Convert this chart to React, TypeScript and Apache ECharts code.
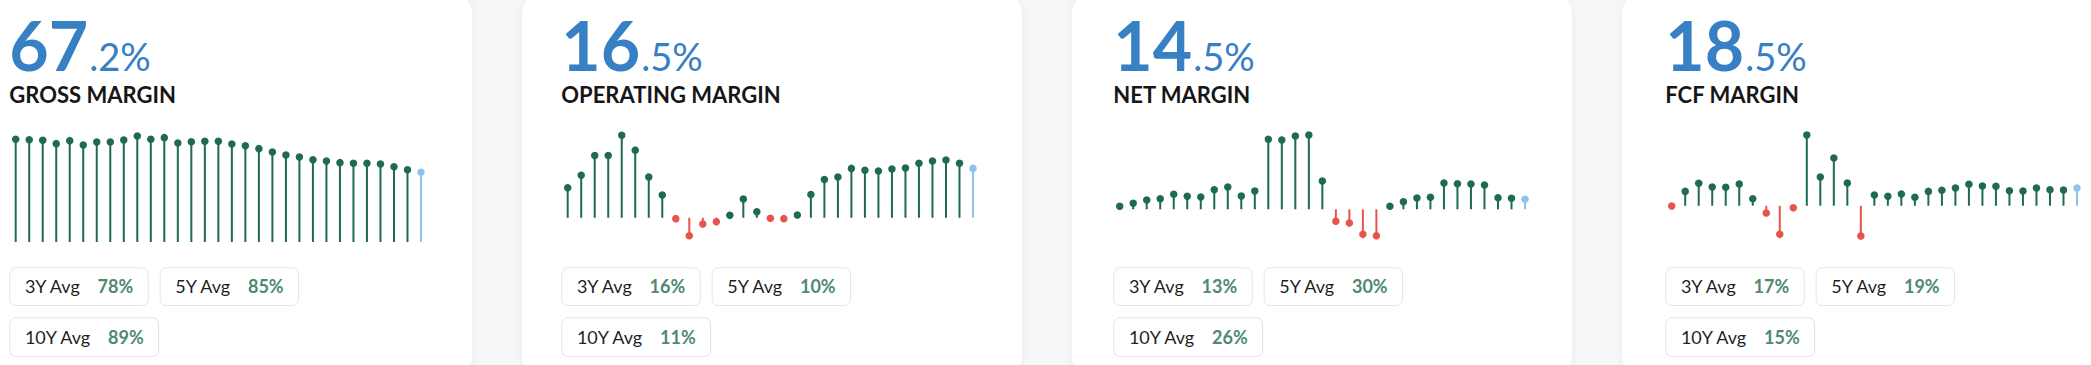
import React, { useEffect, useRef } from 'react';
import * as echarts from 'echarts';

// ---------- DATA ----------
const categories = [
  '1994', '1995', '1996', '1997', '1998', '1999', '2000', '2001', '2002', '2003',
  '2004', '2005', '2006', '2007', '2008', '2009', '2010', '2011', '2012', '2013',
  '2014', '2015', '2016', '2017', '2018', '2019', '2020', '2021', '2022', '2023', 'TTM',
];

const grossMargin = [
  99.0, 98.6, 98.0, 94.8, 97.7, 93.5, 96.4, 96.4, 98.3, 102.2, 99.0, 100.6, 95.4, 96.7, 97.1, 97.1,
  94.5, 92.8, 90.0, 86.8, 83.9, 81.9, 79.3, 78.1, 76.5, 75.9, 75.9, 75.2, 72.6, 69.7, 67.2,
];
const operatingMargin = [
  10.0, 14.2, 20.8, 20.8, 27.6, 22.6, 13.6, 7.6, -0.3, -6.0, -2.1, -1.3, 0.8, 6.3, 2.0, -0.2,
  -0.3, 0.9, 7.8, 12.8, 13.6, 16.5, 15.9, 15.6, 16.3, 16.6, 18.2, 19.0, 19.3, 18.2, 16.5,
];
const netMargin = [
  4.4, 8.7, 13.5, 15.4, 21.8, 18.9, 17.8, 28.4, 32.3, 19.3, 26.5, 101.5, 100.5, 106.3, 107.7, 41.0,
  -17.4, -19.9, -36.3, -38.3, 4.4, 11.0, 16.4, 17.4, 38.1, 37.1, 36.7, 35.2, 16.8, 16.0, 14.5,
];
const fcfMargin = [
  -0.3, 15.0, 23.4, 19.5, 19.2, 22.7, 7.3, -7.6, -29.9, -2.1, 73.9, 30.0, 49.8, 23.7, -31.7, 11.2,
  9.8, 12.2, 8.8, 15.0, 16.1, 18.5, 22.4, 20.6, 20.3, 15.7, 15.4, 18.5, 16.7, 16.4, 18.5,
];

const titles = ['GROSS MARGIN', 'OPERATING MARGIN', 'NET MARGIN', 'FCF MARGIN'];
const headlineWhole = ['67', '16', '14', '18'];
const headlineDecimal = ['.2%', '.5%', '.5%', '.5%'];
const avgLabels = ['3Y Avg', '5Y Avg', '10Y Avg'];
const grossAvg = ['78%', '85%', '89%'];
const operatingAvg = ['16%', '10%', '11%'];
const netAvg = ['13%', '30%', '26%'];
const fcfAvg = ['17%', '19%', '15%'];

const seriesValues = [grossMargin, operatingMargin, netMargin, fcfMargin];
const seriesAvgs = [grossAvg, operatingAvg, netAvg, fcfAvg];

// ---------- LAYOUT / STYLE ----------
const W = 2091;
const H = 365;
const FONT = 'Lato, "Noto Sans", sans-serif';
const GREEN = '#1e6a52';
const RED = '#e8534b';
const BLUE = '#8dc4ef';
const HEAD_BLUE = '#3680c3';
const VALUE_GREEN = '#4d8a71';
const yRanges = [
  [0, 107.0],
  [-8.1, 29.0],
  [-47.4, 113.5],
  [-37.9, 78.1],
];

const measureCtx = typeof document !== 'undefined' ? document.createElement('canvas').getContext('2d') : null;
function textWidth(text: string, weight: number, size: number): number {
  if (!measureCtx) return text.length * size * 0.55;
  measureCtx.font = `${weight} ${size}px Lato`;
  return measureCtx.measureText(text).width;
}

function pointColor(v: number, i: number, n: number): string {
  if (i === n - 1) return BLUE;
  return v < 0 ? RED : GREEN;
}

function buildOption() {
  const graphic: any[] = [];
  const grids: any[] = [];
  const xAxes: any[] = [];
  const yAxes: any[] = [];
  const series: any[] = [];

  for (let k = 0; k < 4; k++) {
    const cardX = -28 + 550 * k;
    graphic.push({
      type: 'rect',
      z: 0,
      shape: { x: cardX, y: -8, width: 500, height: 386, r: 22 },
      style: { fill: '#ffffff', shadowBlur: 10, shadowColor: 'rgba(30,40,60,0.05)' },
      silent: true,
    });

    const ox = 9.3 + 552 * k;
    // headline
    const wholeSize = 68;
    const decSize = 38;
    const wholeW = textWidth(headlineWhole[k], 700, wholeSize);
    graphic.push({
      type: 'text',
      z: 5,
      x: ox,
      y: 70.7 - 0.387 * wholeSize,
      style: {
        text: headlineWhole[k],
        fill: HEAD_BLUE,
        fontFamily: FONT,
        fontWeight: 700,
        fontSize: wholeSize,
        align: 'left',
        verticalAlign: 'middle',
      },
    });
    graphic.push({
      type: 'text',
      z: 5,
      x: ox + wholeW + 1,
      y: 70.7 - 0.387 * decSize,
      style: {
        text: headlineDecimal[k],
        fill: HEAD_BLUE,
        fontFamily: FONT,
        fontWeight: 400,
        fontSize: decSize,
        align: 'left',
        verticalAlign: 'middle',
      },
    });
    // title
    const titleSize = 22;
    graphic.push({
      type: 'text',
      z: 5,
      x: ox,
      y: 102.7 - 0.387 * titleSize,
      style: {
        text: titles[k],
        fill: '#161616',
        fontFamily: FONT,
        fontWeight: 700,
        fontSize: titleSize,
        align: 'left',
        verticalAlign: 'middle',
      },
    });

    // avg boxes
    const boxSize = 18;
    const padL = 15.6;
    const gap = 16.5;
    const padR = 14.5;
    const rows = [
      { y: 267.3, h: 37.7, items: [0, 1] },
      { y: 317.3, h: 38.7, items: [2] },
    ];
    rows.forEach((row) => {
      let bx = ox;
      row.items.forEach((idx) => {
        const lw = textWidth(avgLabels[idx], 400, boxSize);
        const vw = textWidth(seriesAvgs[k][idx], 700, boxSize);
        const bw = padL + lw + gap + vw + padR;
        graphic.push({
          type: 'rect',
          z: 4,
          shape: { x: bx + 0.5, y: row.y + 0.5, width: bw, height: row.h, r: 6 },
          style: { fill: '#ffffff', stroke: '#e2e4e7', lineWidth: 1 },
          silent: true,
        });
        const cy = row.y + row.h / 2 + 0.3;
        graphic.push({
          type: 'text',
          z: 5,
          x: bx + padL,
          y: cy,
          style: {
            text: avgLabels[idx],
            fill: '#1f1f1f',
            fontFamily: FONT,
            fontWeight: 400,
            fontSize: boxSize,
            align: 'left',
            verticalAlign: 'middle',
          },
        });
        graphic.push({
          type: 'text',
          z: 5,
          x: bx + padL + lw + gap,
          y: cy,
          style: {
            text: seriesAvgs[k][idx],
            fill: VALUE_GREEN,
            fontFamily: FONT,
            fontWeight: 700,
            fontSize: boxSize,
            align: 'left',
            verticalAlign: 'middle',
          },
        });
        bx += bw + 12;
      });
    });

    // chart grid
    const first = 15.7 + 552 * k;
    const span = 405.3;
    const n = categories.length;
    const band = span / (n - 1);
    grids.push({ left: first - band / 2, width: band * n, top: 131, height: 111, containLabel: false });
    xAxes.push({ type: 'category', gridIndex: k, data: categories, show: false, boundaryGap: true });
    yAxes.push({
      type: 'value',
      gridIndex: k,
      show: false,
      min: yRanges[k][0],
      max: yRanges[k][1],
      splitLine: { show: false },
    });
    const vals = seriesValues[k];
    series.push({
      type: 'bar',
      xAxisIndex: k,
      yAxisIndex: k,
      barWidth: 2,
      clip: false,
      silent: true,
      data: vals.map((v, i) => ({ value: v, itemStyle: { color: pointColor(v, i, n) } })),
    });
    series.push({
      type: 'scatter',
      xAxisIndex: k,
      yAxisIndex: k,
      symbol: 'circle',
      symbolSize: 7.5,
      clip: false,
      silent: true,
      z: 3,
      data: vals.map((v, i) => ({ value: v, itemStyle: { color: pointColor(v, i, n), opacity: 1 } })),
    });
  }

  return {
    animation: false,
    backgroundColor: '#f6f7f9',
    tooltip: { show: false },
    grid: grids,
    xAxis: xAxes,
    yAxis: yAxes,
    series,
    graphic: { elements: graphic },
  };
}

export default function App() {
  const ref = useRef<HTMLDivElement>(null);
  useEffect(() => {
    document.body.style.margin = '0';
    if (!ref.current) return;
    const chart = echarts.init(ref.current, undefined, { renderer: 'svg', width: W, height: H });
    chart.setOption(buildOption() as any);
    return () => chart.dispose();
  }, []);
  return <div ref={ref} style={{ position: 'absolute', left: 0, top: 0, width: W, height: H }} />;
}
